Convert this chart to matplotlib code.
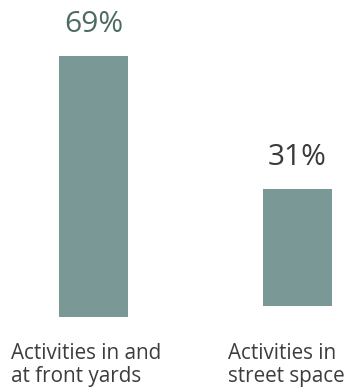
import matplotlib
matplotlib.use('Agg')
import matplotlib.pyplot as plt

# chart values
categories = ['Activities in and\nat front yards', 'Activities in\nstreet space']
shares = [69, 31]
value_labels = ['69%', '31%']

# layout (bars do not share one baseline in the original)
bar_base = [0, 2.9]
label_shift = [-0.404, -0.343]
value_colors = ['#4d6b62', '#3a3a3a']
bar_color = '#7a9895'

plt.rcParams['font.family'] = ['Open Sans', 'DejaVu Sans']

fig = plt.figure(figsize=(3.49, 3.91), dpi=100)
ax = fig.add_axes([0, 0, 1, 1])
ax.set_xlim(-0.458, 1.252)
ax.set_ylim(-19.65, 83.8)
ax.axis('off')

pos = list(range(len(shares)))
bars = ax.bar(pos, shares, width=0.338, bottom=bar_base, color=bar_color)

for i, b in enumerate(bars):
	top = b.get_y() + b.get_height()
	ax.annotate(value_labels[i], (b.get_x() + b.get_width() / 2, top),
				xytext=(0, 17.3), textcoords='offset points',
				ha='center', va='baseline', fontsize=21.5, color=value_colors[i])
	ax.annotate(categories[i], (pos[i] + label_shift[i], 0),
				xytext=(0, -19), textcoords='offset points',
				ha='left', va='top', fontsize=14.9, color='#3d3d3d',
				linespacing=1.13)

fig.savefig('out.png', dpi=100)
